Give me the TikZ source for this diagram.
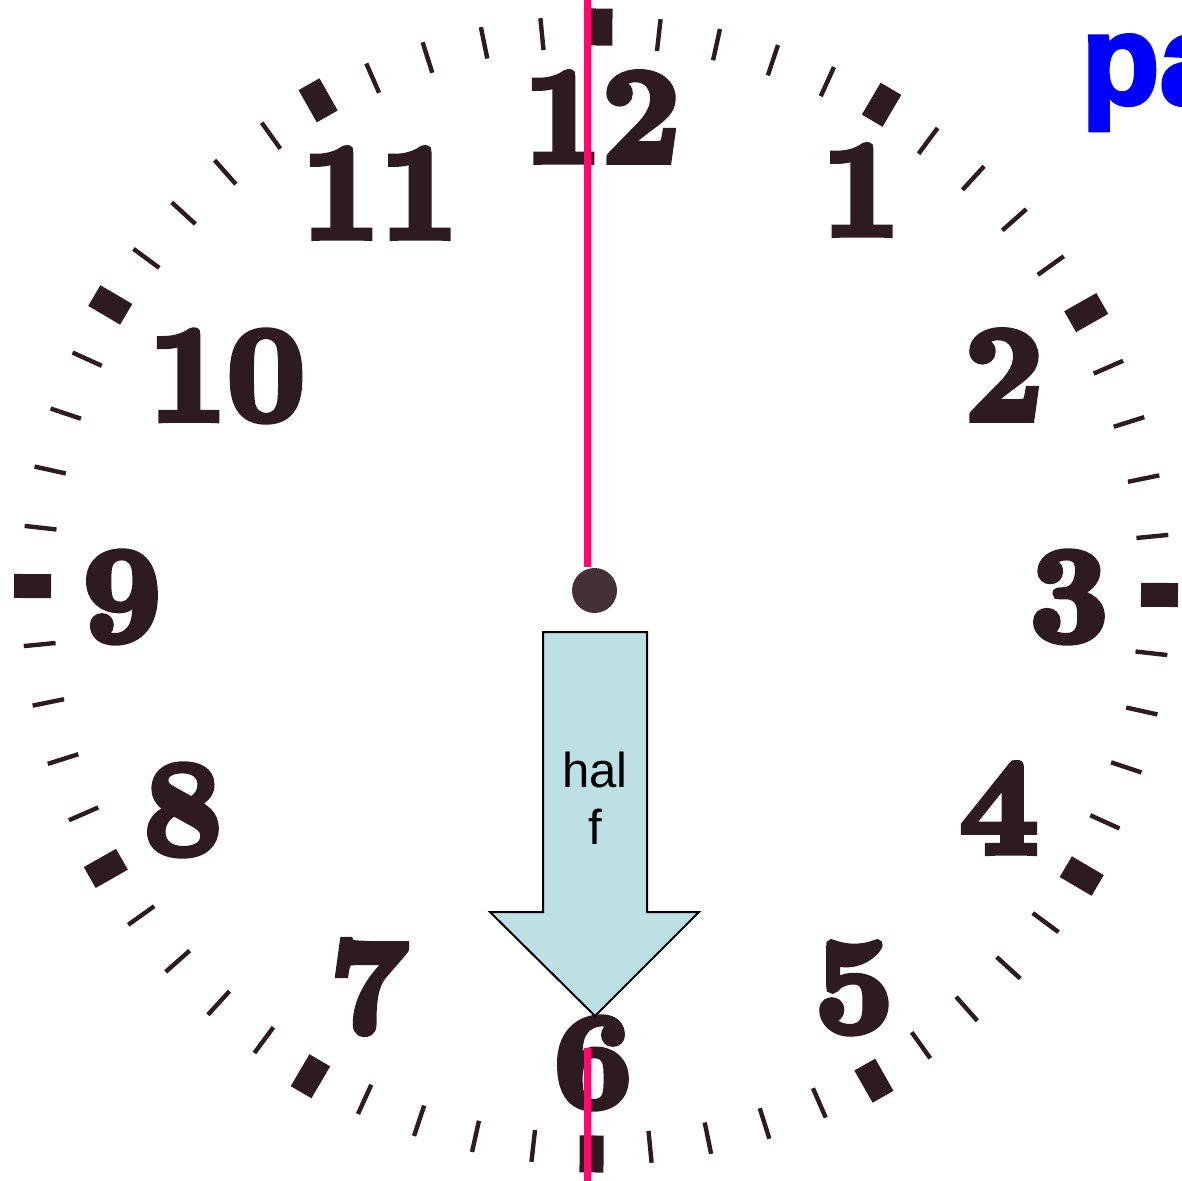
\documentclass[tikz,border=0pt]{standalone}
\usepackage{fontspec}
\usetikzlibrary{calc}
\newfontfamily\numfont{lmroman10-bold}[Extension=.otf, FakeBold=5]
\newfontfamily\halfont{Liberation Sans}
\newfontfamily\pafont{Liberation Sans Bold}[FakeBold=3]
\definecolor{clockInk}{HTML}{2E1A21}
\definecolor{handPink}{HTML}{FF0A6C}
\definecolor{arrowFill}{HTML}{BCE0E4}
\definecolor{paBlue}{HTML}{0000FF}

\begin{document}
\begin{tikzpicture}[
  x=0.5pt, y=-0.5pt,
  minmark/.style={draw=clockInk, line width=2.2pt},
  hourmark/.style={draw=clockInk, line width=12pt},
  numeral/.style={text=clockInk, inner sep=0pt,
                  font=\numfont\fontsize{68}{74}\selectfont},
  hand/.style={draw=handPink, line width=3.5pt},
]
\useasboundingbox (0,0) rectangle (1182,1181);
\clip (0,0) rectangle (1182,1181);

\coordinate (ctr) at (596,590.5);

% minute and hour marks
\foreach \i in {0,...,59} {
  \pgfmathsetmacro{\a}{-90+6*\i+0.45}
  \pgfmathtruncatemacro{\r}{mod(\i,5)}
  \ifnum\r=0
    \draw[hourmark] ([shift={(\a:545)}]ctr) -- ([shift={(\a:582)}]ctr);
  \else
    \draw[minmark] ([shift={(\a:543)}]ctr) -- ([shift={(\a:575)}]ctr);
  \fi
}

% numerals
\foreach \num/\px/\py in {12/602/117, 1/861/190, 2/1004/375, 3/1069/597,
    4/999/808, 5/854/988, 6/593/1063, 7/369/987, 8/183/810, 9/122/597,
    10/227/376, 11/380/193}
  \node[numeral] (n\num) at (\px,\py) {\num};

% hand and centre dot
\node[circle, fill=clockInk!90, minimum size=22.5pt, inner sep=0pt] (pivot) at (594.5,590.5) {};
\coordinate (top) at (587,0);
\coordinate (handEnd) at (587,567);
\coordinate (lowStart) at (587,1048);
\coordinate (lowEnd) at (587,1181);
\draw[hand] (top) -- (handEnd);
\draw[hand] (lowStart) -- (lowEnd);

% arrow
\draw[fill=arrowFill, line width=1pt, line join=miter]
  (543,632) -- (647,632) -- (647,912) -- (699,912) -- (595,1016)
  -- (490,912) -- (543,912) -- cycle;
\node[font=\halfont\fontsize{24.5}{28.5}\selectfont, align=center, inner sep=0pt]
  (half) at (595,798) {hal\\f};

% cut-off word
\node[font=\pafont\fontsize{64}{70}\selectfont, text=paBlue, anchor=base west, inner sep=0pt]
  (pa) at (1081,104) {pa};
\end{tikzpicture}
\end{document}
